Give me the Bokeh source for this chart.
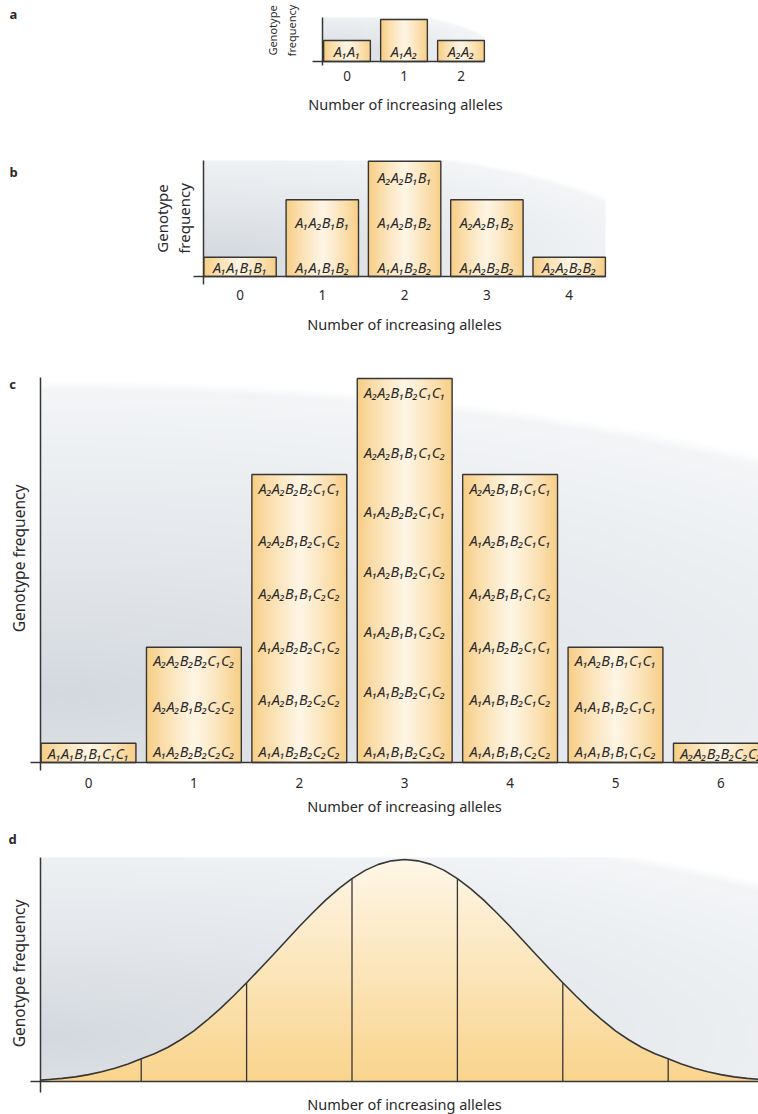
import numpy as np
from bokeh.core.properties import value
from bokeh.embed import file_html
from bokeh.layouts import column
from bokeh.models import Label
from bokeh.plotting import figure
from bokeh.resources import INLINE

# ---------------------------------------------------------------- data
ALLELES_A = [0, 1, 2]
FREQ_A = [1, 2, 1]
GENOTYPES_A = [["A₁A₁"], ["A₁A₂"], ["A₂A₂"]]

ALLELES_B = [0, 1, 2, 3, 4]
FREQ_B = [1, 4, 6, 4, 1]
GENOTYPES_B = [  # listed bottom to top within each bar
    ["A₁A₁B₁B₁"],
    ["A₁A₁B₁B₂", "A₁A₂B₁B₁"],
    ["A₁A₁B₂B₂", "A₁A₂B₁B₂", "A₂A₂B₁B₁"],
    ["A₁A₂B₂B₂", "A₂A₂B₁B₂"],
    ["A₂A₂B₂B₂"],
]

ALLELES_C = [0, 1, 2, 3, 4, 5, 6]
FREQ_C = [1, 6, 15, 20, 15, 6, 1]
GENOTYPES_C = [  # listed bottom to top within each bar
    ["A₁A₁B₁B₁C₁C₁"],
    ["A₁A₂B₂B₂C₂C₂", "A₂A₂B₁B₂C₂C₂", "A₂A₂B₂B₂C₁C₂"],
    ["A₁A₁B₂B₂C₂C₂", "A₁A₂B₁B₂C₂C₂", "A₁A₂B₂B₂C₁C₂",
     "A₂A₂B₁B₁C₂C₂", "A₂A₂B₁B₂C₁C₂", "A₂A₂B₂B₂C₁C₁"],
    ["A₁A₁B₁B₂C₂C₂", "A₁A₁B₂B₂C₁C₂", "A₁A₂B₁B₁C₂C₂", "A₁A₂B₁B₂C₁C₂",
     "A₁A₂B₂B₂C₁C₁", "A₂A₂B₁B₁C₁C₂", "A₂A₂B₁B₂C₁C₁"],
    ["A₁A₁B₁B₁C₂C₂", "A₁A₁B₁B₂C₁C₂", "A₁A₁B₂B₂C₁C₁",
     "A₁A₂B₁B₁C₁C₂", "A₁A₂B₁B₂C₁C₁", "A₂A₂B₁B₁C₁C₁"],
    ["A₁A₁B₁B₁C₁C₂", "A₁A₁B₁B₂C₁C₁", "A₁A₂B₁B₁C₁C₁"],
    ["A₂A₂B₂B₂C₂C₂"],
]

# continuous distribution (relative frequency, peak = 100)
CURVE_X = [-0.45] + [round(-0.375 + 0.125 * k, 3) for k in range(55)]
CURVE_Y = [0.6, 0.9, 1.4, 2.1, 3.1, 4.4, 6.0, 7.9, 10.2, 12.5, 15.3, 18.8,
           22.8, 27.6, 32.8, 38.5, 44.5, 50.7, 57.0, 63.4, 69.8, 75.9, 81.7,
           86.9, 91.4, 95.1, 97.8, 99.4, 100.0, 99.4, 97.8, 95.1, 91.4, 86.9,
           81.7, 75.9, 69.8, 63.4, 57.0, 50.7, 44.5, 38.5, 32.8, 27.6, 22.8,
           18.8, 15.3, 12.5, 10.2, 7.9, 6.0, 4.4, 3.1, 2.1, 1.4, 0.9]
BIN_EDGES = [0.5, 1.5, 2.5, 3.5, 4.5, 5.5]

X_TITLE = "Number of increasing alleles"
Y_TITLE = "Genotype frequency"

# ---------------------------------------------------------------- style
PAGE_W = 758
INK = "#363636"
TEXT = "#2a2a2a"
FONT = "Noto Sans"
BG_DARK = np.array([211.0, 216.0, 222.0])
BG_LIGHT = np.array([243.0, 245.0, 247.0])
BAR_EDGE = np.array([247.0, 203.0, 126.0])
BAR_MID = np.array([254.0, 246.0, 230.0])
FILL_LOW = np.array([249.0, 212.0, 140.0])
FILL_HIGH = np.array([254.0, 246.0, 231.0])


def to_rgba(arr):
    rows, cols = arr.shape[:2]
    img = np.empty((rows, cols), dtype=np.uint32)
    view = img.view(dtype=np.uint8).reshape((rows, cols, 4))
    view[..., :3] = np.clip(np.round(arr), 0, 255).astype(np.uint8)
    view[..., 3] = 255
    return img


def backdrop(w_px, h_px, cx, cy, ax, by, step=2):
    """Soft elliptical grey wash, darkest low on the left, fading to white."""
    cols, rows = max(2, int(w_px / step)), max(2, int(h_px / step))
    X, Y = np.meshgrid((np.arange(cols) + 0.5) / cols, (np.arange(rows) + 0.5) / rows)
    r = np.sqrt(((X - cx) / ax) ** 2 + ((Y - cy) / by) ** 2)
    t = np.clip(r, 0, 1) ** 0.85
    col = BG_DARK + (BG_LIGHT - BG_DARK) * t[..., None]
    edge = np.clip((r - 0.985) / 0.03, 0, 1)[..., None]
    col = col * (1 - edge) + 255.0 * edge
    return to_rgba(col)


def bar_shade(n=64):
    t = (np.arange(n) + 0.5) / n
    s = (1 - np.abs(2 * t - 1)) ** 0.8
    col = BAR_EDGE + (BAR_MID - BAR_EDGE) * s[:, None]
    return to_rgba(col[None, :, :])


class Panel:
    """A full-width figure; page pixels map to data via an origin and scale."""

    def __init__(self, fig_top, height, c0, pitch, axis_py, unit):
        self.c0, self.pitch, self.axis_py, self.unit = c0, pitch, axis_py, unit
        x_range = self.dx(0), self.dx(PAGE_W)
        y_range = self.dy(fig_top + height), self.dy(fig_top)
        self.p = figure(width=PAGE_W, height=height, x_range=x_range, y_range=y_range,
                        output_backend="svg", toolbar_location=None, title=None,
                        x_axis_location=None, y_axis_location=None, min_border=0)
        self.p.grid.visible = False
        self.p.outline_line_color = None
        self.p.background_fill_color = "white"
        self.p.border_fill_color = "white"

    def dx(self, px):
        return (px - self.c0) / self.pitch

    def dy(self, py):
        return (self.axis_py - py) / self.unit

    def axes(self, x_from, x_to, yaxis_px, y_top, y_bottom):
        """Crossed axis lines: x axis at zero, y axis just left of the first bar."""
        yx = self.dx(yaxis_px)
        self.p.segment(x0=[self.dx(x_from), yx], y0=[0, self.dy(y_bottom)],
                       x1=[self.dx(x_to), yx], y1=[0, self.dy(y_top)],
                       line_color=INK, line_width=1.5)

    def wash(self, yaxis_px, right_px, top_px, shape):
        w_px, h_px = right_px - yaxis_px, self.axis_py - top_px
        self.p.image_rgba(image=[backdrop(w_px, h_px, *shape)], x=self.dx(yaxis_px), y=0,
                          dw=w_px / self.pitch, dh=h_px / self.unit)

    def ticks(self, alleles, py, size="13.5px"):
        self.p.text(x=alleles, y=[self.dy(py)] * len(alleles), text=[str(a) for a in alleles],
                    text_font=value(FONT), text_font_size=size, text_color=TEXT,
                    text_align="center", text_baseline="middle")

    def label(self, px, py, text, size="14.5px", angle=0.0, bold=False):
        self.p.add_layout(Label(x=self.dx(px), y=self.dy(py), text=text, text_font=FONT,
                                text_font_size=size, text_color=TEXT, text_align="center",
                                text_baseline="middle", angle=angle,
                                text_font_style="bold" if bold else "normal"))

    def bars(self, alleles, freq, width, genotypes, rows_fn, size="14.5px"):
        p = self.p
        n = len(alleles)
        half = width / 2
        lefts = [a - half for a in alleles]
        rights = [a + half for a in alleles]
        shade = bar_shade()
        p.image_rgba(image=[shade] * n, x=lefts, y=[0] * n, dw=[width] * n, dh=freq)
        p.quad(left=lefts, right=rights, bottom=0, top=freq, fill_color=None,
               line_color=INK, line_width=1.4)
        xs, ys, ts = [], [], []
        for a, h, names in zip(alleles, freq, genotypes):
            for y, t in zip(rows_fn(h, len(names)), names):
                xs.append(a)
                ys.append(y)
                ts.append(t)
        p.text(x=xs, y=ys, text=ts, text_font=value(FONT), text_font_style="italic",
               text_font_size=size, text_align="center", text_baseline="middle",
               text_color=TEXT)


# ---------------------------------------------------------------- panel a
A = Panel(0, 130, 346.5, 57.0, 61, 21.0)
A.wash(322, 484, 17, (0.03, 0.15, 1.05, 1.05))
A.bars(ALLELES_A, FREQ_A, 0.82, GENOTYPES_A, lambda h, n: [0.52])
A.axes(312, 484, 322, 17, 65)
A.ticks(ALLELES_A, 75)
A.label(405, 103, X_TITLE)
A.label(272, 30, "Genotype", size="11px", angle=np.pi / 2)
A.label(291, 30, "frequency", size="11px", angle=np.pi / 2)
A.label(13, 13, "a", size="13px", bold=True)

# ---------------------------------------------------------------- panel b
B = Panel(130, 210, 239.5, 82.3, 276, 19.2)
B.wash(203, 605, 160, (0.03, 0.18, 1.12, 0.96))
B.bars(ALLELES_B, FREQ_B, 0.88, GENOTYPES_B,
       lambda h, n: [0.52 + 2.34 * k for k in range(n)])
B.axes(193, 605, 203, 160, 284)
B.ticks(ALLELES_B, 294)
B.label(404, 323, X_TITLE)
B.label(161, 218, "Genotype", size="15px", angle=np.pi / 2)
B.label(183, 218, "frequency", size="15px", angle=np.pi / 2)
B.label(13, 171, "b", size="13px", bold=True)

# ---------------------------------------------------------------- panel c
C = Panel(340, 480, 88.0, 105.4, 762, 19.2)
C.wash(40, 758, 377, (0.03, 0.18, 1.47, 0.80))


def rows_c(h, n):
    if n == 1:
        return [0.52]
    return list(np.linspace(0.58, h - 0.68, n))


C.bars(ALLELES_C, FREQ_C, 0.90, GENOTYPES_C, rows_c)
C.axes(30, 758, 40, 377, 770)
C.ticks(ALLELES_C, 782)
C.label(404, 805, X_TITLE)
C.label(18, 558, Y_TITLE, size="15.5px", angle=np.pi / 2)
C.label(12, 383, "c", size="13px", bold=True)

# ---------------------------------------------------------------- panel d
D = Panel(820, 294, 88.0, 105.4, 1081, 2.22)
D.wash(40, 758, 857, (0.0, 0.2, 1.35, 1.0))

pd_ = D.p
cy = np.array(CURVE_Y)
levels = np.linspace(0, cy.max(), 49)
for k in range(len(levels) - 1, 0, -1):
    frac = (k - 0.5) / (len(levels) - 1)
    rgb = FILL_LOW + (FILL_HIGH - FILL_LOW) * frac
    color = "#%02x%02x%02x" % tuple(int(round(c)) for c in rgb)
    pd_.varea(x=CURVE_X, y1=0, y2=np.minimum(cy, levels[k]), fill_color=color)

lookup = dict(zip(CURVE_X, CURVE_Y))
edge_heights = [lookup[b] for b in BIN_EDGES]
pd_.segment(x0=BIN_EDGES, y0=0, x1=BIN_EDGES, y1=edge_heights, line_color=INK, line_width=1.3)
pd_.line(CURVE_X, CURVE_Y, line_color=INK, line_width=1.6)
D.axes(30, 758, 40, 857, 1092)
D.label(404, 1103, X_TITLE)
D.label(18, 973, Y_TITLE, size="15.5px", angle=np.pi / 2)
D.label(12, 838, "d", size="13px", bold=True)

layout = column(A.p, B.p, C.p, D.p, spacing=0)
open("out.html", "w").write(file_html(layout, INLINE))
